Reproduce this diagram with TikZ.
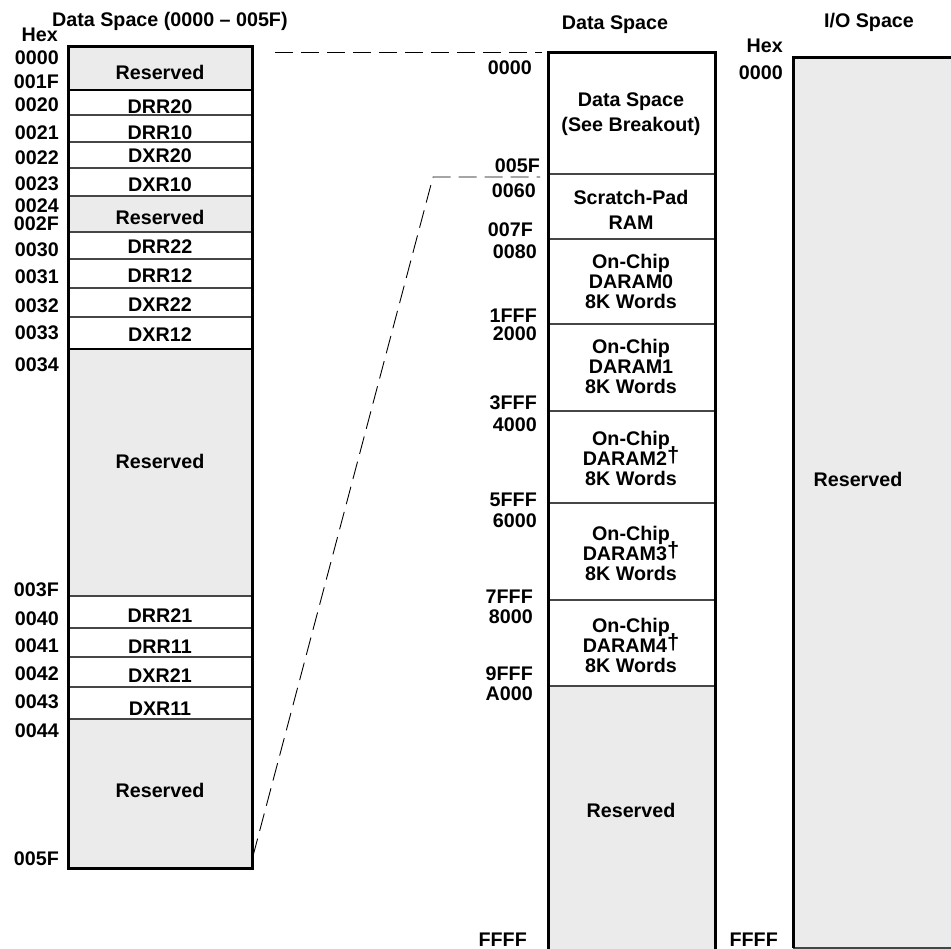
\documentclass[tikz,border=0pt]{standalone}
\usepackage{fontspec}
\setmainfont{Liberation Sans}
\usetikzlibrary{positioning}
\definecolor{resgray}{RGB}{235,235,235}
\definecolor{rulegray}{RGB}{70,70,70}
\newcommand{\dagmark}{\smash{\raisebox{3pt}{\fontsize{22pt}{22pt}\selectfont †}}}
\tikzset{
  frame/.style={line width=3pt,black},
  divider/.style={line width=1.2pt,rulegray},
  heavydiv/.style={line width=2.6pt,black},
  breakout/.style={line width=0.9pt,dash pattern=on 18pt off 8pt},
  lbl/.style={font=\fontsize{19.7pt}{20pt}\selectfont\bfseries,inner sep=0pt},
  addr/.style={lbl,anchor=base east},
  cell/.style={lbl,anchor=base},
  block/.style={lbl,align=center,anchor=center}
}

\begin{document}
\begin{tikzpicture}[x=1pt,y=-1pt]
  \useasboundingbox (0,0) rectangle (951,949);
  \clip (0,0) rectangle (951,949);
  % breakout of data space 0000-005F
  \foreach \top/\bot/\base/\txt/\fl [count=\i] in {
      47/90/80/Reserved/resgray, 90/115/114/DRR20/white,
      115/142/140/DRR10/white, 142/168/163/DXR20/white,
      168/196/192/DXR10/white, 196/232/225/Reserved/resgray,
      232/259/254/DRR22/white, 259/288/283/DRR12/white,
      288/317/312/DXR22/white, 317/349/342/DXR12/white,
      349/596/469/Reserved/resgray, 596/628/622/DRR21/white,
      628/657/653/DRR11/white, 657/687/682/DXR21/white,
      687/719/715/DXR11/white, 719/868/797/Reserved/resgray} {
    \fill[\fl] (68,\top) rectangle (252,\bot);
    \draw[divider] (68,\top) -- (252,\top);
    \node[cell] (ds\i) at (160,\base) {\txt};
  }
  \draw[heavydiv] (68,90) -- (252,90);
  \draw[heavydiv] (68,349) -- (252,349);
  \draw[frame] (68,47) rectangle (252,868);
  \foreach \y/\a in {65/0000, 89/001F, 112/0020, 140/0021, 165/0022,
      191/0023, 213/0024, 231/002F, 257/0030, 284/0031, 313/0032,
      340/0033, 372/0034, 596/003F, 625/0040, 652/0041, 680/0042,
      708/0043, 737/0044, 865/005F}
    \node[addr] (da\a) at (59,\y) {\a};
  \node[lbl,anchor=base west] (dstitle) at (52,27) {Data Space (0000 – 005F)};
  \node[addr] (dshex) at (58,42) {Hex};

  % data space
  \foreach \top/\bot/\mid/\txt/\fl [count=\i] in {
      53/174/114/{Data Space\\[5pt](See Breakout)}/white,
      174/239/210/{Scratch-Pad\\[5pt]RAM}/white,
      239/324/281/{On-Chip\\DARAM0\\8K Words}/white,
      324/411/366/{On-Chip\\DARAM1\\8K Words}/white,
      411/503/458/{On-Chip\\DARAM2\dagmark\\8K Words}/white,
      503/600/553/{On-Chip\\DARAM3\dagmark\\8K Words}/white,
      600/686/645/{On-Chip\\DARAM4\dagmark\\8K Words}/white,
      686/960/810/{Reserved}/resgray} {
    \fill[\fl] (548,\top) rectangle (715,\bot);
    \draw[divider] (548,\top) -- (715,\top);
    \node[block] (dm\i) at (631,\mid) {\txt};
  }
  \draw[frame] (548,960) -- (548,53) -- (715,53) -- (715,960);
  \foreach \x/\y/\a in {532/75/0000, 540/173/005F, 536/198/0060,
      533/237/007F, 537/259/0080, 537/323/1FFF, 537/341/2000,
      537/410/3FFF, 537/432/4000, 537/507/5FFF, 537/527/6000,
      533/603/7FFF, 533/623/8000, 533/680/9FFF, 533/700/A000,
      527/946/FFFF}
    \node[addr] (dm\a) at (\x,\y) {\a};
  \node[cell] (dmtitle) at (615,30) {Data Space};

  % I/O space
  \fill[resgray] (793,58) rectangle (965,948);
  \draw[divider] (793,948) -- (965,948);
  \draw[frame] (965,58) -- (793,58) -- (793,948);
  \node[cell] (iores) at (858,487) {Reserved};
  \node[cell] (iotitle) at (869,28) {I/O Space};
  \node[addr] (iohex) at (783,53) {Hex};
  \node[addr] (io0000) at (783,80) {0000};
  \node[addr] (ioFFFF) at (778,946) {FFFF};

  % breakout lines
  \coordinate (brkA) at (275,52);
  \coordinate (mapA) at (542,52);
  \coordinate (dsEnd) at (253,856);
  \coordinate (brkB) at (433,177);
  \coordinate (mapB) at (540,177);
  \draw[breakout] (brkA) -- (mapA);
  \draw[breakout] (dsEnd) -- (brkB) -- (mapB);
\end{tikzpicture}
\end{document}
